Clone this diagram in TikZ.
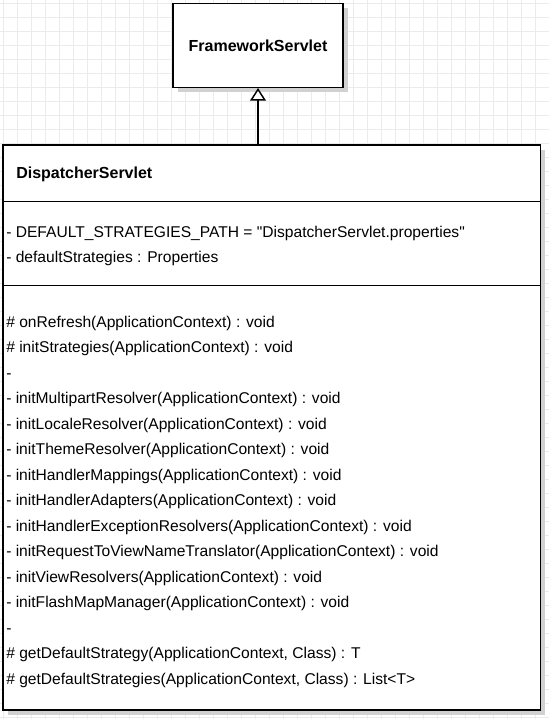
\documentclass[tikz,border=0pt]{standalone}
\usepackage{fontspec}
\setmainfont{Liberation Sans}[Ligatures=TeXOff]
\usetikzlibrary{arrows.meta,positioning,shadows}
\tikzset{classbox/.style = {draw=black, line width=1.1pt, fill=white, inner sep=0pt,
    drop shadow={shadow xshift=3.75pt, shadow yshift=-3.75pt, fill=black!18, opacity=1}}}
\tikzset{member/.style = {anchor=base west, inner sep=0pt, font=\fontsize{11.7}{14}\selectfont}}
\tikzset{extends/.style = {-{Triangle[width=11.8pt,length=9.4pt,fill=white]}, line width=1.1pt}}

\begin{document}
\begin{tikzpicture}[x=0.75pt, y=-0.75pt]
                    \useasboundingbox (0,0) rectangle (549,719);
                    % background grid
                    \foreach \gx in {3.5,17.5,...,549}{
                    \draw[black!8, line width=0.75pt] (\gx,0) -- (\gx,719); }
                    \foreach \gy in {3,17,...,719}{
                    \draw[black!8, line width=0.75pt] (0,\gy) -- (549,\gy); }

                    % super class
                    \node[classbox, minimum width=127.5pt, minimum height=63pt,
                    font=\bfseries\fontsize{12}{14}\selectfont] (F) at (258,45.3) {FrameworkServlet};

                    % class box
                    \node[classbox, minimum width=403.1pt, minimum height=423.75pt] (D) at (271.75,427.5) {};
                    \node[member, font=\bfseries\fontsize{12}{14}\selectfont] (title) at (16,178) {DispatcherServlet};

                    % compartments
                    \draw[line width=0.75pt] (D.west |- 0,201) -- (D.east |- 0,201);
                    \draw[line width=0.75pt] (D.west |- 0,285) -- (D.east |- 0,285);

                    % attributes
                    \node[member] (a1) at (6,237) {- DEFAULT\_STRATEGIES\_PATH = "DispatcherServlet.properties"};
                    \node[member] (a2) at (6,262.5) {- defaultStrategies : Properties};

                    % operations
                    \foreach \txt [count=\i] in {
                    {\# onRefresh(ApplicationContext) : void},
                    {\# initStrategies(ApplicationContext) : void},
                    {-},
                    {- initMultipartResolver(ApplicationContext) : void},
                    {- initLocaleResolver(ApplicationContext) : void},
                    {- initThemeResolver(ApplicationContext) : void},
                    {- initHandlerMappings(ApplicationContext) : void},
                    {- initHandlerAdapters(ApplicationContext) : void},
                    {- initHandlerExceptionResolvers(ApplicationContext) : void},
                    {- initRequestToViewNameTranslator(ApplicationContext) : void},
                    {- initViewResolvers(ApplicationContext) : void},
                    {- initFlashMapManager(ApplicationContext) : void},
                    {-},
                    {\# getDefaultStrategy(ApplicationContext, Class) : T},
                    {\# getDefaultStrategies(ApplicationContext, Class) : List<T>}}{
                    \node[member] (m\i) at (6,{301.5+25.5*\i}) {\txt}; }

                    % generalization
                    \draw[extends] (F.south |- D.north) -- (F.south);
                \end{tikzpicture}
\end{document}
